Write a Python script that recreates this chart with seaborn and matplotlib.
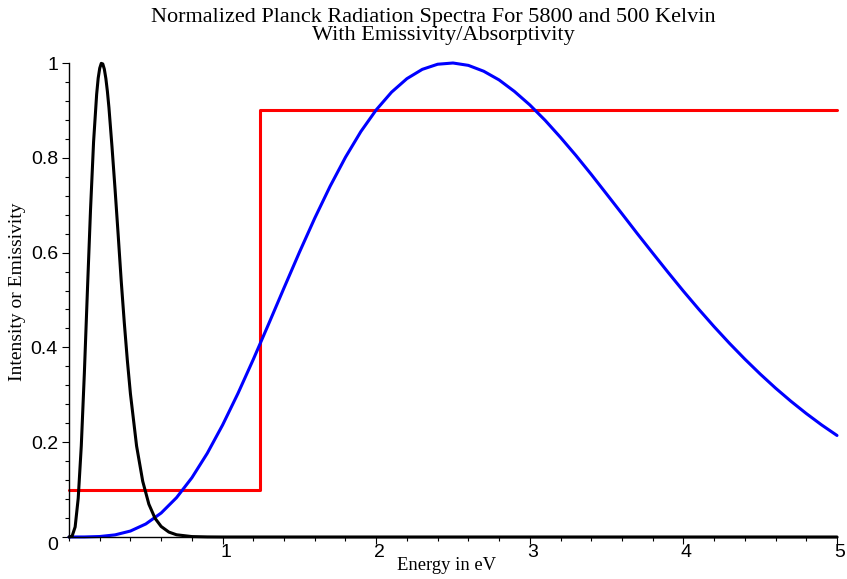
import numpy as np
import pandas as pd
import matplotlib
matplotlib.use("Agg")
import matplotlib.pyplot as plt
from matplotlib.ticker import MultipleLocator, FixedLocator
from matplotlib.transforms import ScaledTranslation
import seaborn as sns

# Sun (5800 K) spectrum, normalized, sampled every 0.1 eV
sun_energy = [0.0, 0.1, 0.2, 0.3, 0.4, 0.5, 0.6, 0.7, 0.8, 0.9, 1.0,
              1.1, 1.2, 1.3, 1.4, 1.5, 1.6, 1.7, 1.8, 1.9, 2.0,
              2.1, 2.2, 2.3, 2.4, 2.5, 2.6, 2.7, 2.8, 2.9, 3.0,
              3.1, 3.2, 3.3, 3.4, 3.5, 3.6, 3.7, 3.8, 3.9, 4.0,
              4.1, 4.2, 4.3, 4.4, 4.5, 4.6, 4.7, 4.8, 4.9, 5.0]
sun_intensity = [0.0, 0.0001, 0.001, 0.0045, 0.0126, 0.0275, 0.0506, 0.083, 0.125, 0.1765, 0.2363,
                 0.3029, 0.3748, 0.4496, 0.5256, 0.6006, 0.6727, 0.74, 0.8012, 0.8553, 0.9011,
                 0.9385, 0.967, 0.9866, 0.9974, 1.0, 0.995, 0.9826, 0.9643, 0.94, 0.9116,
                 0.879, 0.843, 0.805, 0.765, 0.7236, 0.682, 0.64, 0.599, 0.5584, 0.5187,
                 0.4805, 0.4437, 0.4086, 0.3753, 0.3438, 0.3141, 0.2864, 0.2605, 0.2364, 0.2142]

# 500 K body spectrum, normalized
body_energy = [0.0, 0.02, 0.04, 0.06, 0.08, 0.10, 0.12, 0.14, 0.16, 0.18, 0.19, 0.20,
               0.21, 0.22, 0.23, 0.24, 0.25, 0.26, 0.28, 0.30, 0.32, 0.34, 0.36, 0.38, 0.40,
               0.44, 0.48, 0.52, 0.56, 0.60, 0.65, 0.70, 0.80, 0.90, 1.0, 5.0]
body_intensity = [0.0, 0.0017, 0.0212, 0.0817, 0.1922, 0.3457, 0.5207, 0.6896, 0.8337, 0.934, 0.968, 0.989,
                  0.9992, 0.998, 0.987, 0.9673, 0.940, 0.906, 0.823, 0.733, 0.638, 0.54, 0.452, 0.372, 0.302,
                  0.192, 0.1175, 0.0692, 0.0396, 0.0222, 0.0104, 0.0047, 0.0009, 0.0002, 0.0, 0.0]

# Selective surface emissivity/absorptivity step
step_energy = [0.0, 1.243, 1.243, 5.0]
step_emissivity = [0.1, 0.1, 0.9, 0.9]

sns.set_theme(style="white")
plt.rcParams["font.family"] = ["Liberation Sans", "DejaVu Sans"]
plt.rcParams["text.color"] = "black"

fig = plt.figure(figsize=(8.47, 5.79), dpi=100)
ax = fig.add_axes([69 / 847, 1 - 537 / 579, (837 - 69) / 847, (537 - 63) / 579])

lw = 2.2
sun = pd.DataFrame({"E": sun_energy, "I": sun_intensity})
body = pd.DataFrame({"E": body_energy, "I": body_intensity})
step = pd.DataFrame({"E": step_energy, "I": step_emissivity})

sns.lineplot(data=step, x="E", y="I", color="#ff0000", lw=lw, estimator=None, sort=False, ax=ax, clip_on=False)
sns.lineplot(data=sun, x="E", y="I", color="#0000ff", lw=lw, estimator=None, sort=False, ax=ax, clip_on=False)
sns.lineplot(data=body, x="E", y="I", color="#000000", lw=lw, estimator=None, sort=False, ax=ax, clip_on=False)

ax.set_xlim(0, 5)
ax.set_ylim(0, 1)
for s in ["top", "right"]:
    ax.spines[s].set_visible(False)
for s in ["left", "bottom"]:
    ax.spines[s].set_color("black")
    ax.spines[s].set_linewidth(1.0)

ax.xaxis.set_major_locator(FixedLocator([1, 2, 3, 4, 5]))
ax.xaxis.set_minor_locator(MultipleLocator(0.2))
ax.yaxis.set_major_locator(FixedLocator([0, 0.2, 0.4, 0.6, 0.8, 1.0]))
ax.yaxis.set_minor_locator(MultipleLocator(0.04))
ax.yaxis.set_major_formatter(plt.FuncFormatter(lambda v, p: "0" if v == 0 else ("1" if v == 1 else f"{v:.1f}")))
ax.tick_params(which="both", direction="out", color="black", width=0.8,
               bottom=True, left=True, labelsize=14, labelcolor="black")
ax.tick_params(which="major", length=5)
ax.tick_params(which="minor", length=3)
ax.tick_params(axis="x", which="major", pad=0)
ax.tick_params(axis="y", which="major", pad=3)

# nudge x tick labels slightly right, and the origin label slightly down
shift = ScaledTranslation(3 / 100, 0, fig.dpi_scale_trans)
for lab in ax.get_xticklabels():
    lab.set_transform(lab.get_transform() + shift)
origin_lab = ax.get_yticklabels()[0]
origin_lab.set_transform(origin_lab.get_transform() + ScaledTranslation(0, -6 / 100, fig.dpi_scale_trans))

serif = ["Liberation Serif", "DejaVu Serif"]
ax.set_xlabel("Energy in eV", family=serif, fontsize=13.4, color="black")
ax.xaxis.set_label_coords((447 - 69) / 768, -(565 - 537) / 474)
ax.xaxis.label.set_va("center")
ax.set_ylabel("Intensity or Emissivity", family=serif, fontsize=14, color="black")
ax.yaxis.set_label_coords((18 - 69) / 768, (537 - 292) / 474)
ax.yaxis.label.set_va("center")

fig.text(0.512, 0.969, "Normalized Planck Radiation Spectra For 5800 and 500 Kelvin",
         family=serif, fontsize=16, ha="center", va="center", color="black")
fig.text(0.523, 0.939, "With Emissivity/Absorptivity",
         family=serif, fontsize=16, ha="center", va="center", color="black")

fig.savefig("out.png", dpi=100)
